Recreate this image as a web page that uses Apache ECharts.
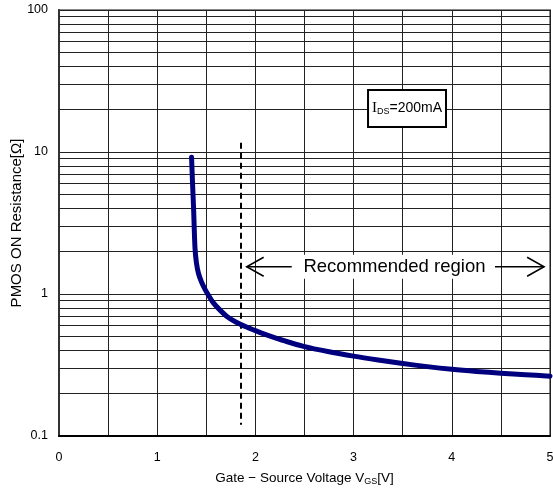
<!DOCTYPE html>
<html><head><meta charset="utf-8">
<script src="https://cdn.jsdelivr.net/npm/echarts@6/dist/echarts.min.js"></script>
<style>html,body{margin:0;padding:0;background:#fff}#c{width:553px;height:490px}</style>
</head><body><div id="c"></div>
<script>
// Gate-source voltage (V) and PMOS ON resistance (ohm)
const vgs = [1.35, 1.36, 1.37, 1.385, 1.40, 1.42, 1.45, 1.49, 1.53, 1.57, 1.64, 1.71, 1.80, 1.91, 2.05, 2.15, 2.30, 2.49, 2.75, 3.00, 3.25, 3.50, 3.75, 4.00, 4.25, 4.50, 4.75, 5.00];
const ron = [9.2, 6.0, 4.1, 2.1, 1.65, 1.40, 1.22, 1.07, 0.96, 0.87, 0.77, 0.695, 0.635, 0.585, 0.535, 0.505, 0.467, 0.428, 0.392, 0.365, 0.343, 0.324, 0.308, 0.295, 0.285, 0.277, 0.27, 0.264];
const xTickLabels = [0, 1, 2, 3, 4, 5];
const yMinorGrid = [0.2,0.3,0.4,0.5,0.6,0.7,0.8,0.9, 2,3,4,5,6,7,8,9, 20,30,40,50,60,70,80,90];
const limitVgs = 1.85;
const limitSpan = [11.6, 0.12];
const regionText = 'Recommended region';
const regionY = 1.556;
const regionArrowLeft = [1.911, 2.37];
const regionArrowRight = [4.44, 4.94];
const regionTextX = 3.416;
const condBox = [[3.147, 27.3], [3.941, 15.0]];

const FONT = 'Liberation Sans, Arial, sans-serif';
const chart = echarts.init(document.getElementById('c'));
chart.setOption({
  animation: false,
  backgroundColor: '#fff',
  grid: {left: 59, right: 3, top: 10, bottom: 54, show: true, borderColor: '#888', borderWidth: 2, backgroundColor: '#fff',
    containLabel: false, outerBoundsMode: 'none'},
  xAxis: {
    type: 'value', min: 0, max: 5, interval: 0.5,
    axisLine: {lineStyle: {color: '#000', width: 2}},
    axisTick: {show: false},
    splitLine: {lineStyle: {color: '#222', width: 1}},
    axisLabel: {formatter: v => xTickLabels.includes(v) ? String(v) : '', margin: 15, color: '#000', fontSize: 12.5, fontFamily: FONT},
    name: '{n|Gate − Source Voltage V}{s|GS}{n|[V]}',
    nameLocation: 'middle', nameGap: 35, nameMoveOverlap: false,
    nameTextStyle: {rich: {
      n: {fontSize: 13.5, fontFamily: FONT, color: '#000'},
      s: {fontSize: 9, fontFamily: FONT, color: '#000', padding: [6, 0, 0, 0]}
    }}
  },
  yAxis: {
    type: 'log', logBase: 10, min: 0.1, max: 100,
    axisLine: {lineStyle: {color: '#333', width: 2}},
    axisTick: {show: false},
    splitLine: {lineStyle: {color: '#222', width: 1}},
    axisLabel: {margin: 11, color: '#000', fontSize: 12.5, fontFamily: FONT,
      formatter: v => String(v)},
    name: 'PMOS ON Resistance[Ω]', nameLocation: 'middle', nameGap: 35, nameMoveOverlap: false,
    nameTextStyle: {fontSize: 15, fontFamily: FONT, color: '#000'}
  },
  series: [
    {type: 'line', data: [], z: 1, silent: true,
     markLine: {silent: true, symbol: 'none', animation: false, label: {show: false},
       lineStyle: {color: '#222', width: 1, type: 'solid'},
       data: yMinorGrid.map(v => ({yAxis: v}))}},
    {type: 'line', data: [], z: 2, silent: true,
     markLine: {silent: true, symbol: 'none', animation: false, label: {show: false},
       lineStyle: {color: '#000', width: 2, type: [6, 4]},
       data: [[{coord: [limitVgs, limitSpan[0]]}, {coord: [limitVgs, limitSpan[1]]}]]}},
    {type: 'line', z: 5, data: vgs.map((x, i) => [x, ron[i]]), showSymbol: false,
     smooth: 0.3,
     lineStyle: {color: '#00007f', width: 5, cap: 'round', join: 'round'}, itemStyle: {color: '#00007f'}}
  ]
});

function px(p) { return chart.convertToPixel({gridIndex: 0}, p); }
const lt = px([regionArrowLeft[0], regionY]);
const le = px([regionArrowLeft[1], regionY]);
const rs = px([regionArrowRight[0], regionY]);
const rt = px([regionArrowRight[1], regionY]);
const tc = px([regionTextX, regionY]);
const b0 = px(condBox[0]);
const b1 = px(condBox[1]);
const lineStyle = {stroke: '#000', lineWidth: 1.5, fill: null};
chart.setOption({graphic: [
  {type: 'polyline', z: 10, shape: {points: [lt, le]}, style: lineStyle},
  {type: 'polyline', z: 10, shape: {points: [[lt[0] + 17, lt[1] - 9.5], lt, [lt[0] + 17, lt[1] + 9.5]]}, style: lineStyle},
  {type: 'polyline', z: 10, shape: {points: [rs, rt]}, style: lineStyle},
  {type: 'polyline', z: 10, shape: {points: [[rt[0] - 17, rt[1] - 9.5], rt, [rt[0] - 17, rt[1] + 9.5]]}, style: lineStyle},
  {type: 'rect', z: 10, shape: {x: tc[0] - 94, y: tc[1] - 12, width: 188, height: 24}, style: {fill: '#fff', stroke: null}},
  {type: 'text', z: 11, x: tc[0], y: tc[1], style: {text: regionText, font: '18.5px ' + FONT, fill: '#000', align: 'center', verticalAlign: 'middle'}},
  {type: 'rect', z: 10, shape: {x: b0[0], y: b0[1], width: b1[0] - b0[0], height: b1[1] - b0[1]}, style: {fill: '#fff', stroke: '#000', lineWidth: 2}},
  {type: 'text', z: 11, x: (b0[0] + b1[0]) / 2, y: (b0[1] + b1[1]) / 2,
   style: {text: '{i|I}{s|DS}{n|=200mA}', align: 'center', verticalAlign: 'middle',
     rich: {i: {fontSize: 15, fontFamily: 'Liberation Serif, serif', fill: '#000'},
            s: {fontSize: 9, fontFamily: FONT, fill: '#000', padding: [6, 0, 0, 0]},
            n: {fontSize: 14, fontFamily: FONT, fill: '#000'}}}}
]});
</script></body></html>
